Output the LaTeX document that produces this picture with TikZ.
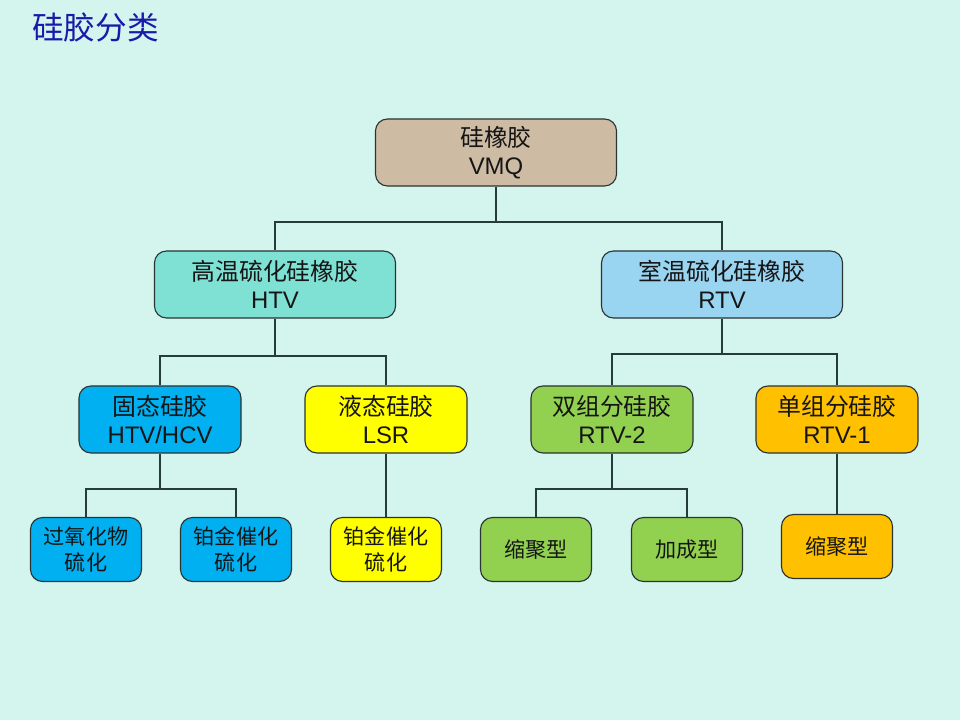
\documentclass[tikz,border=0pt]{standalone}
\usepackage{fontspec}
\setmainfont{Liberation Sans}
\newfontfamily\cjk{Noto Sans CJK SC}
\definecolor{bgc}{HTML}{D4F4EE}
\definecolor{titlec}{HTML}{1A1AAA}
\definecolor{linec}{HTML}{263C3C}
\definecolor{edgec}{HTML}{2A3434}
\definecolor{txtc}{HTML}{151515}
\definecolor{tanc}{HTML}{CDBBA4}
\definecolor{aquac}{HTML}{7FE0D4}
\definecolor{skyc}{HTML}{99D4F0}
\definecolor{bluec}{HTML}{00B0F0}
\definecolor{yelc}{HTML}{FFFF00}
\definecolor{grnc}{HTML}{92D050}
\definecolor{orgc}{HTML}{FFC000}
\tikzset{
  box/.style={draw=edgec, line width=0.8pt, rounded corners=0.3cm, align=center,
    text=txtc, inner sep=0pt, font=\fontsize{17}{19.5}\selectfont},
  bigbox/.style={box, minimum width=6.025cm, minimum height=1.675cm},
  midbox/.style={box, minimum width=4.05cm, minimum height=1.675cm},
  smallbox/.style={box, minimum width=2.775cm, minimum height=1.6cm,
    font=\fontsize{15}{18.5}\selectfont},
  conn/.style={draw=linec, line width=1.3pt}
}
\begin{document}
\begin{tikzpicture}[x=0.025cm, y=-0.025cm]
\path[fill=bgc] (0,0) rectangle (960,720);
\useasboundingbox (0,0) rectangle (960,720);
\node[text=titlec, font=\cjk\fontsize{22.5}{24}\selectfont] (title) at (95.5,27) {硅胶分类};

\node[bigbox, fill=tanc] (vmq) at (496,152.5) {{\cjk 硅橡胶}\\VMQ};
\node[bigbox, fill=aquac] (htv) at (275,284.5) {{\cjk 高温硫化硅橡胶}\\HTV};
\node[bigbox, fill=skyc] (rtv) at (722,284.5) {{\cjk 室温硫化硅橡胶}\\RTV};

\node[midbox, fill=bluec] (solid) at (160,419.5) {{\cjk 固态硅胶}\\HTV/HCV};
\node[midbox, fill=yelc] (liquid) at (386,419.5) {{\cjk 液态硅胶}\\LSR};
\node[midbox, fill=grnc] (two) at (612,419.5) {{\cjk 双组分硅胶}\\RTV-2};
\node[midbox, fill=orgc] (one) at (837,419.5) {{\cjk 单组分硅胶}\\RTV-1};

\node[smallbox, fill=bluec] (perox) at (86,549.5) {{\cjk 过氧化物}\\{\cjk 硫化}};
\node[smallbox, fill=bluec] (ptb) at (236,549.5) {{\cjk 铂金催化}\\{\cjk 硫化}};
\node[smallbox, fill=yelc] (pty) at (386,549.5) {{\cjk 铂金催化}\\{\cjk 硫化}};
\node[smallbox, fill=grnc] (cond) at (536,549.5) {\cjk 缩聚型};
\node[smallbox, fill=grnc] (add) at (687,549.5) {\cjk 加成型};
\node[smallbox, fill=orgc] (cond1) at (837,546.5) {\cjk 缩聚型};

\coordinate (j1) at (vmq.south |- 0,222);
\draw[conn] (vmq.south) -- (j1) -| (htv.north);
\draw[conn] (j1) -| (rtv.north);

\coordinate (j2) at (htv.south |- 0,356);
\draw[conn] (htv.south) -- (j2) -| (solid.north);
\draw[conn] (j2) -| (liquid.north);

\coordinate (j3) at (rtv.south |- 0,354);
\draw[conn] (rtv.south) -- (j3) -| (two.north);
\draw[conn] (j3) -| (one.north);

\coordinate (j4) at (solid.south |- 0,489);
\draw[conn] (solid.south) -- (j4) -| (perox.north);
\draw[conn] (j4) -| (ptb.north);

\draw[conn] (liquid.south) -- (pty.north);

\coordinate (j5) at (two.south |- 0,489);
\draw[conn] (two.south) -- (j5) -| (cond.north);
\draw[conn] (j5) -| (add.north);

\draw[conn] (one.south) -- (cond1.north);
\end{tikzpicture}
\end{document}
